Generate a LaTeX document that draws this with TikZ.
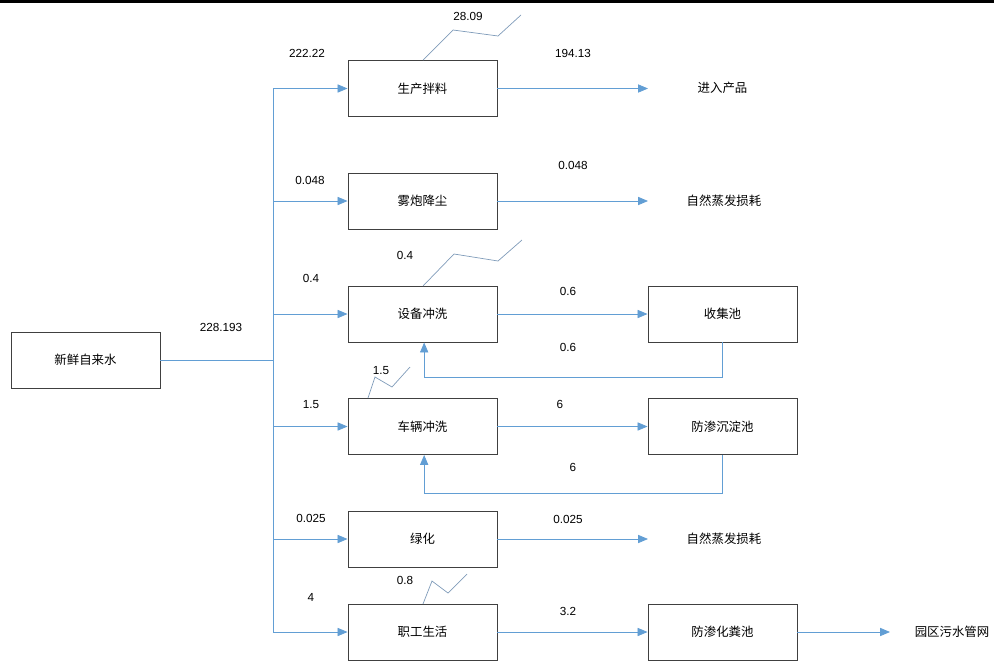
\documentclass[tikz,border=0pt]{standalone}
\usepackage{fontspec}
\setmainfont{Liberation Sans}
\newfontfamily\cjk{Noto Sans CJK SC}
\usetikzlibrary{arrows.meta}
\definecolor{flowblue}{RGB}{98,158,212}
\definecolor{boxgray}{RGB}{64,64,64}
\definecolor{losscol}{RGB}{128,156,186}
\tikzset{
  unit/.style={draw=boxgray, line width=0.8pt, minimum width=4.47cm, minimum height=1.68cm, inner sep=0pt, font=\cjk\fontsize{10.6}{12}\selectfont},
  flow/.style={draw=flowblue, line width=0.7pt, -{Triangle[length=8.5pt,width=7pt]}},
  pipe/.style={draw=flowblue, line width=0.7pt},
  loss/.style={draw=losscol, line width=0.6pt},
  num/.style={inner sep=0pt},
  sink/.style={font=\cjk\fontsize{10.6}{12}\selectfont, inner sep=0pt}
}
\begin{document}
\begin{tikzpicture}[x=0.03cm,y=-0.03cm]
\useasboundingbox (0,0) rectangle (994,662);
\fill[black] (0,0) rectangle (994,3);

% units
\node[unit] (src) at (85.5,360) {新鲜自来水};
\node[unit] (mix) at (422.5,88.5) {生产拌料};
\node[unit] (dust) at (422.5,201) {雾炮降尘};
\node[unit] (wash) at (422.5,314) {设备冲洗};
\node[unit] (pool) at (722.5,314) {收集池};
\node[unit] (car) at (422.5,426.5) {车辆冲洗};
\node[unit] (sett) at (722.5,426.5) {防渗沉淀池};
\node[unit] (green) at (422.5,539) {绿化};
\node[unit] (staff) at (422.5,632) {职工生活};
\node[unit] (septic) at (722.5,632) {防渗化粪池};

% sinks
\node[sink] (prod) at (722.5,88) {进入产品};
\node[sink] (evap1) at (724,201) {自然蒸发损耗};
\node[sink] (evap2) at (724,539) {自然蒸发损耗};
\node[sink] (sewer) at (952,632) {园区污水管网};

\coordinate (bustop) at (273,88.5);
\coordinate (busbot) at (273,632);
\coordinate (bus) at (273,360);
\coordinate (prodend) at (648,88.5);
\coordinate (evap1end) at (648,201);
\coordinate (evap2end) at (648,539);
\coordinate (sewerend) at (890,632);

% supply
\draw[pipe] (src.east) -- (bus);
\draw[pipe] (bustop) -- (busbot);
\foreach \n in {mix,dust,wash,car,green,staff}
  \draw[flow] (bus |- \n.west) -- (\n.west);

% outflows
\draw[flow] (mix.east) -- (prodend);
\draw[flow] (dust.east) -- (evap1end);
\draw[flow] (wash.east) -- (pool.west);
\draw[flow] (car.east) -- (sett.west);
\draw[flow] (green.east) -- (evap2end);
\draw[flow] (staff.east) -- (septic.west);
\draw[flow] (septic.east) -- (sewerend);

% recycle
\draw[flow] (pool.south) -- ++(0,35) -| ([xshift=0.05cm]wash.south);
\draw[flow] (sett.south) -- ++(0,38) -| ([xshift=0.05cm]car.south);

% losses
\draw[loss] (423,60) -- (453,30) -- (498,36) -- (521,15);
\draw[loss] (423,286) -- (454,254) -- (498,261) -- (522,240);
\draw[loss] (368,398) -- (375,377) -- (392,387) -- (410,367);
\draw[loss] (423,604) -- (432,581) -- (448,593) -- (467,574);

% quantities
\node[num] at (221,327) {228.193};
\node[num] at (307,53) {222.22};
\node[num] at (310,180) {0.048};
\node[num] at (311,278) {0.4};
\node[num] at (311,405) {1.5};
\node[num] at (311,518) {0.025};
\node[num] at (311,597) {4};
\node[num] at (468,16) {28.09};
\node[num] at (405,255) {0.4};
\node[num] at (381,371) {1.5};
\node[num] at (405,580) {0.8};
\node[num] at (573,53) {194.13};
\node[num] at (573,165) {0.048};
\node[num] at (568,291) {0.6};
\node[num] at (568,347) {0.6};
\node[num] at (560,404) {6};
\node[num] at (573,467) {6};
\node[num] at (568,519) {0.025};
\node[num] at (568,611) {3.2};
\end{tikzpicture}
\end{document}
